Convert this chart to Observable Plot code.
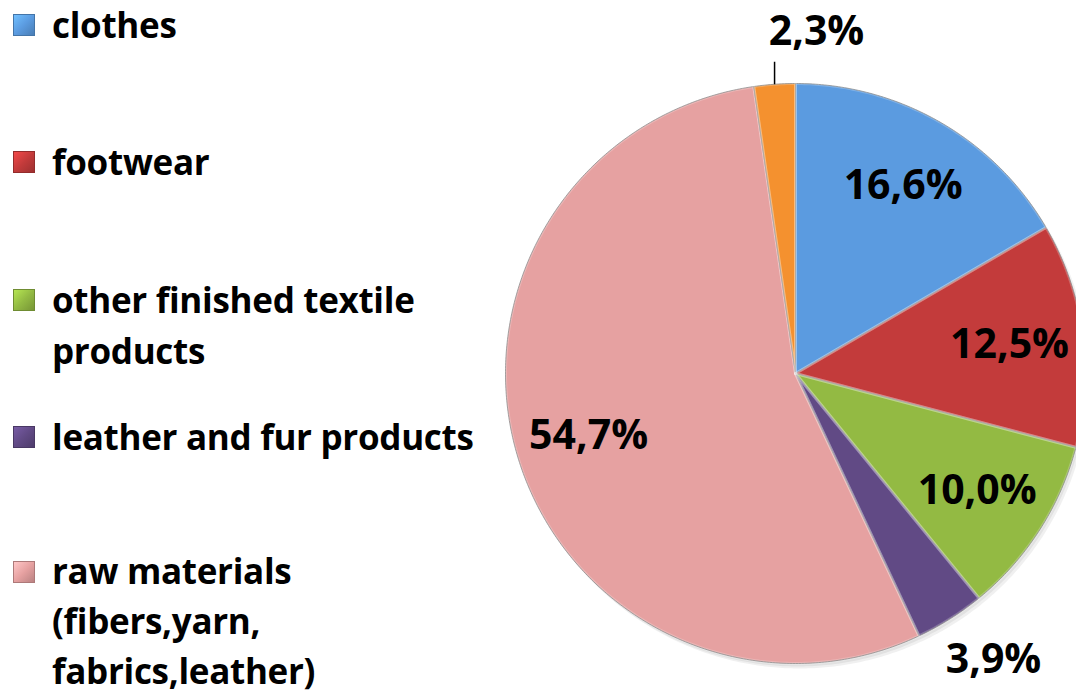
<!DOCTYPE html>
<html><head><meta charset="utf-8">
<script src="https://cdn.jsdelivr.net/npm/d3@7"></script>
<script src="https://cdn.jsdelivr.net/npm/@observablehq/plot@0.6"></script>
<style>
body{margin:0;background:#fff;font-family:"Open Sans",Lato,sans-serif;}
#wrap{position:relative;width:1076px;height:696px;overflow:hidden;}
#chart{position:absolute;left:0;top:0;}
.item{position:absolute;left:0;}
.sw{position:absolute;left:13px;width:22px;height:22px;box-sizing:border-box;}
.lt{position:absolute;left:52px;width:440px;font-weight:bold;font-size:35px;line-height:51px;color:#000;letter-spacing:-0.3px;}
</style></head>
<body><div id="wrap"><div id="chart"></div><div id="legend"></div></div>
<script>
// ---- data ----
const categories = ["clothes","footwear","other finished textile products","leather and fur products","raw materials (fibers,yarn, fabrics,leather)","other"];
const shares = [16.6, 12.5, 10.0, 3.9, 54.7, 2.3];
const labels = ["16,6%","12,5%","10,0%","3,9%","54,7%","2,3%"];
const colors = ["#5b9be0","#c33b3b","#93ba43","#614a85","#e6a1a1","#f4912f"];
const inLegend = [true, true, true, true, true, false];

// ---- layout ----
const W = 1076, H = 696, R = 290, CX = 795, CY = 373;
const rows = categories.map((c, i) => ({c, v: shares[i], label: labels[i], color: colors[i]}));
const arcs = d3.pie().sort(null).value(d => d.v)(rows);

const poly = [];
arcs.forEach((a, i) => {
  const n = Math.max(4, Math.ceil((a.endAngle - a.startAngle) / 0.01));
  poly.push({k: i, x: 0, y: 0});
  for (let j = 0; j <= n; j++) {
    const t = a.startAngle + (a.endAngle - a.startAngle) * j / n;
    poly.push({k: i, x: Math.sin(t), y: Math.cos(t)});
  }
  poly.push({k: i, x: 0, y: 0});
});

const lab = arcs.map((a, i) => {
  const m = (a.startAngle + a.endAngle) / 2;
  const small = a.data.v < 5;
  const leader = a.data.v < 3;
  const r = small ? (leader ? 1.18 : 1.19) : 0.745;
  return {x: r * Math.sin(m), y: r * Math.cos(m), label: a.data.label, leader, small, m};
});
const leaders = lab.filter(d => d.leader).map(d => ({x1: Math.sin(d.m), y1: Math.cos(d.m), x2: Math.sin(d.m), y2: 1.075}));

const font = "'Open Sans', Lato, sans-serif";
const plot = Plot.plot({
  width: W, height: H,
  marginTop: 0, marginRight: 0, marginBottom: 0, marginLeft: 0,
  x: {domain: [-CX / R, (W - CX) / R], axis: null},
  y: {domain: [-(H - CY) / R, CY / R], axis: null},
  color: {domain: d3.range(categories.length), range: colors},
  style: {fontFamily: font, background: "transparent"},
  marks: [
    Plot.line(poly, {x: "x", y: "y", z: "k", fill: "#000", fillOpacity: 0.06, stroke: "none", dx: 4, dy: 5, curve: "linear"}),
    Plot.line(poly, {x: "x", y: "y", z: "k", fill: "#000", fillOpacity: 0.06, stroke: "none", dx: 2, dy: 3, curve: "linear"}),
    Plot.line(poly, {x: "x", y: "y", z: "k", fill: "k", stroke: "#6f6f6f", strokeWidth: 0.8, strokeLinejoin: "round", curve: "linear"}),
    Plot.line(poly, {x: "x", y: "y", z: "k", stroke: "white", strokeOpacity: 0.22, strokeWidth: 3, curve: "linear"}),
    Plot.link(leaders, {x1: "x1", y1: "y1", x2: "x2", y2: "y2", stroke: "black", strokeWidth: 1.5}),
    Plot.text(lab.filter(d => !d.leader && !d.small), {x: "x", y: "y", text: "label", fontSize: 41, fontWeight: "bold", fill: "black"}),
    Plot.text(lab.filter(d => d.small && !d.leader), {x: "x", y: "y", text: "label", fontSize: 41, fontWeight: "bold", fill: "black", dx: 14, dy: -6}),
    Plot.text(lab.filter(d => d.leader), {x: "x", y: "y", text: "label", fontSize: 41, fontWeight: "bold", fill: "black", textAnchor: "start", dx: -2})
  ]
});
document.getElementById("chart").appendChild(plot);

// ---- legend ----
const tops = [-1, 136, 274, 411, 546];
const legend = document.getElementById("legend");
let li = 0;
categories.forEach((c, i) => {
  if (!inLegend[i]) return;
  const idx = li++;
  const top = tops[idx];
  const base = d3.color(colors[i]);
  const item = document.createElement("div");
  item.className = "item";
  item.style.top = top + "px";
  const sw = document.createElement("div");
  sw.className = "sw";
  sw.style.top = "15px";
  sw.style.background = `linear-gradient(135deg, ${base.brighter(0.6)} 0%, ${base} 50%, ${base.darker(0.6)} 100%)`;
  sw.style.border = `1px solid ${base.darker(0.8)}`;
  const t = document.createElement("div");
  t.className = "lt";
  if (idx === 4) t.style.lineHeight = "50px";
  t.textContent = c;
  item.appendChild(sw); item.appendChild(t);
  legend.appendChild(item);
});
</script></body></html>
